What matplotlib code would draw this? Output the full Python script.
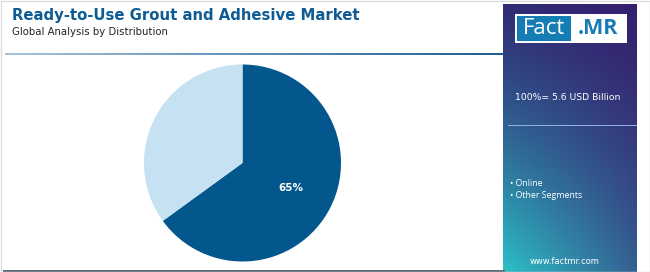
import numpy as np
import matplotlib
matplotlib.use("Agg")
import matplotlib.pyplot as plt
from matplotlib.patches import Rectangle
from matplotlib.colors import LinearSegmentedColormap

# ------------------------------------------------------------------------------
# data
segments = ["Online", "Other Segments"]
shares   = [65, 35]
colors   = ["#03578c", "#c6e1f1"]
title    = "Ready-to-Use Grout and Adhesive Market"
subtitle = "Global Analysis by Distribution"
total    = "100%= 5.6 USD Billion"

W, H = 650, 272
fig = plt.figure(figsize=(W / 100, H / 100), dpi=100)
fig.patch.set_facecolor("white")

def px(x, y):
    # pixel (from top-left) -> figure fraction
    return x / W, 1 - y / H

# ------------------------------------------------------------------------------
# header
fig.text(*px(12, 20), title, fontsize=10.7, fontweight="bold", color="#0f5b93",
         family="DejaVu Sans", va="baseline")
fig.text(*px(12, 35), subtitle, fontsize=7.3, color="#222222",
         family="DejaVu Sans", va="baseline")

# gradient line under header
line_ax = fig.add_axes([5 / W, 1 - 54.5 / H, 498 / W, 2 / H])
grad = np.linspace(0, 1, 256).reshape(1, -1)
line_cmap = LinearSegmentedColormap.from_list("ln", ["#a9c3d8", "#5f8fb6", "#1d5f93"])
line_ax.imshow(grad, aspect="auto", cmap=line_cmap)
line_ax.axis("off")

# bottom line
fig.add_artist(Rectangle(px(3, 271.5), 502 / W, 2 / H, transform=fig.transFigure,
                         color="#5d6a7a", lw=0))

# ------------------------------------------------------------------------------
# pie
cx, cy, r = 242.5, 163, 98.5
pie_ax = fig.add_axes([(cx - r) / W, 1 - (cy + r) / H, 2 * r / W, 2 * r / H])
wedges, texts, autotexts = pie_ax.pie(
    shares, colors=colors, startangle=90, counterclock=False,
    autopct=lambda p: f"{p:.0f}%" if p > 50 else "", pctdistance=0.55,
    wedgeprops=dict(linewidth=0), textprops=dict(color="white", fontsize=7.5,
                                                  fontweight="bold"))
pie_ax.set_xlim(-1, 1)
pie_ax.set_ylim(-1, 1)
pie_ax.set_aspect("equal")

# ------------------------------------------------------------------------------
# side panel
px0, py0, px1, py1 = 503, 4, 637, 272
panel_ax = fig.add_axes([px0 / W, 1 - py1 / H, (px1 - px0) / W, (py1 - py0) / H])
ny, nx = 200, 100
yy, xx = np.mgrid[0:1:ny * 1j, 0:1:nx * 1j]
top_l = np.array([0x30, 0x2e, 0x76]) / 255
top_r = np.array([0x35, 0x1f, 0x6e]) / 255
bot_l = np.array([0x2c, 0xc0, 0xc6]) / 255
bot_r = np.array([0x35, 0x60, 0x92]) / 255
t = yy[..., None] ** 1.3
s = xx[..., None]
img = (1 - t) * ((1 - s) * top_l + s * top_r) + t * ((1 - s) * bot_l + s * bot_r)
panel_ax.imshow(np.clip(img, 0, 1), aspect="auto", extent=[0, 1, 0, 1])
panel_ax.set_xlim(0, 1)
panel_ax.set_ylim(0, 1)
panel_ax.axis("off")

# logo
fig.add_artist(Rectangle(px(515, 43), 112 / W, 29 / H, transform=fig.transFigure,
                         color="white", lw=0))
fig.add_artist(Rectangle(px(517, 41), 54 / W, 25 / H, transform=fig.transFigure,
                         color="#167cb4", lw=0))
fig.text(*px(544, 29), "Fact", fontsize=16, color="white", ha="center",
         va="center", family="Open Sans")
fig.text(*px(598, 29), ".MR", fontsize=15.5, color="#167cb4", ha="center",
         va="center", fontweight="bold", family="Open Sans")

fig.text(*px(515, 97), total, fontsize=6.7, color="white", va="center",
         family="DejaVu Sans")
fig.add_artist(Rectangle(px(508, 126), 129 / W, 1.2 / H, transform=fig.transFigure,
                         color="#8fb3dc", lw=0))

for i, name in enumerate(segments):
    fig.text(*px(510, 183 + i * 13), "\u2022 " + name, fontsize=6.3, color="white",
             va="center", family="Open Sans")

fig.text(*px(565, 262), "www.factmr.com", fontsize=6, color="white", ha="center",
         va="center", family="DejaVu Sans")

# outer border
fig.add_artist(Rectangle((0.5 / W, 0.5 / H), 1 - 1 / W, 1 - 1 / H,
                         transform=fig.transFigure, fill=False,
                         edgecolor="#dddddd", lw=1))

fig.savefig("out.png", dpi=100)
